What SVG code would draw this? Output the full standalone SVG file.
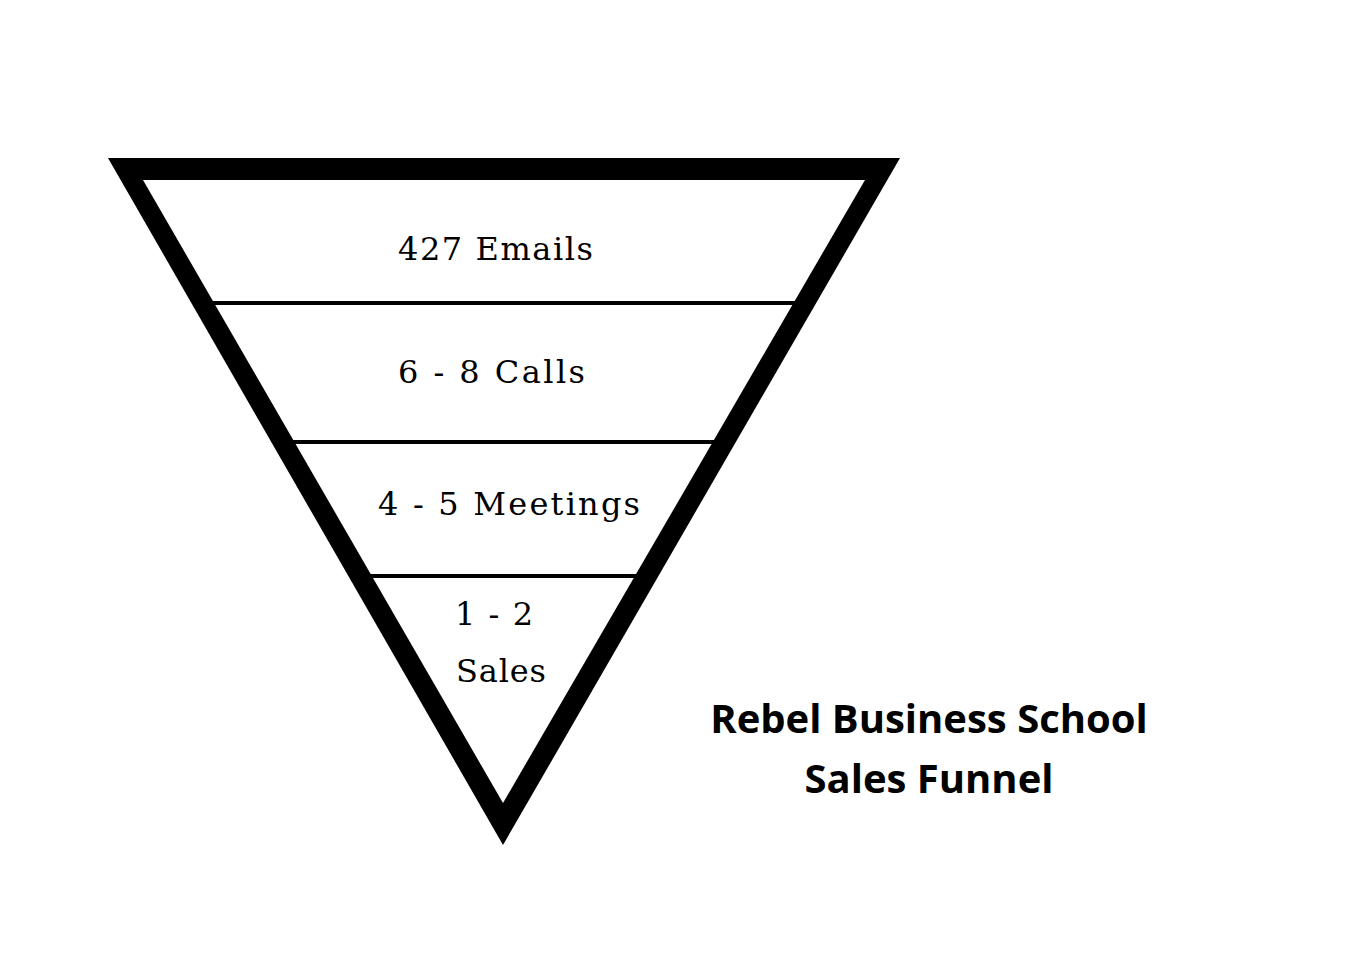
<svg xmlns="http://www.w3.org/2000/svg" width="1352" height="964" viewBox="0 0 1352 964">
<style>
.lbl{font-family:"DejaVu Serif","Liberation Serif",serif;font-size:32px;fill:#000}
.ttl{font-family:"Open Sans","Liberation Sans",sans-serif;font-weight:bold;font-size:40px;fill:#000;text-anchor:middle}
.sep{stroke:#000;stroke-width:4}
</style>
<rect width="1352" height="964" fill="#fff"/>
<g id="funnel">
<polygon points="108,158 900,158 503,845" fill="#000"/>
<polygon points="143,180 865,180 503,803" fill="#fff"/>
</g>
<g id="connectors">
<line class="sep" x1="213" y1="303" x2="795" y2="303"/>
<line class="sep" x1="293" y1="442" x2="715" y2="442"/>
<line class="sep" x1="370" y1="576" x2="637" y2="576"/>
</g>
<g id="emails"><text class="lbl" x="398" y="260" textLength="195">427 Emails</text></g>
<g id="calls"><text class="lbl" x="398" y="383" textLength="187">6 - 8 Calls</text></g>
<g id="meetings"><text class="lbl" x="378" y="515" textLength="262">4 - 5 Meetings</text></g>
<g id="sales"><text class="lbl" x="455" y="625" textLength="78">1 - 2</text><text class="lbl" x="456" y="682" textLength="90">Sales</text></g>
<g id="title"><text class="ttl" x="929" y="733">Rebel Business School</text><text class="ttl" x="929" y="793">Sales Funnel</text></g>
</svg>
